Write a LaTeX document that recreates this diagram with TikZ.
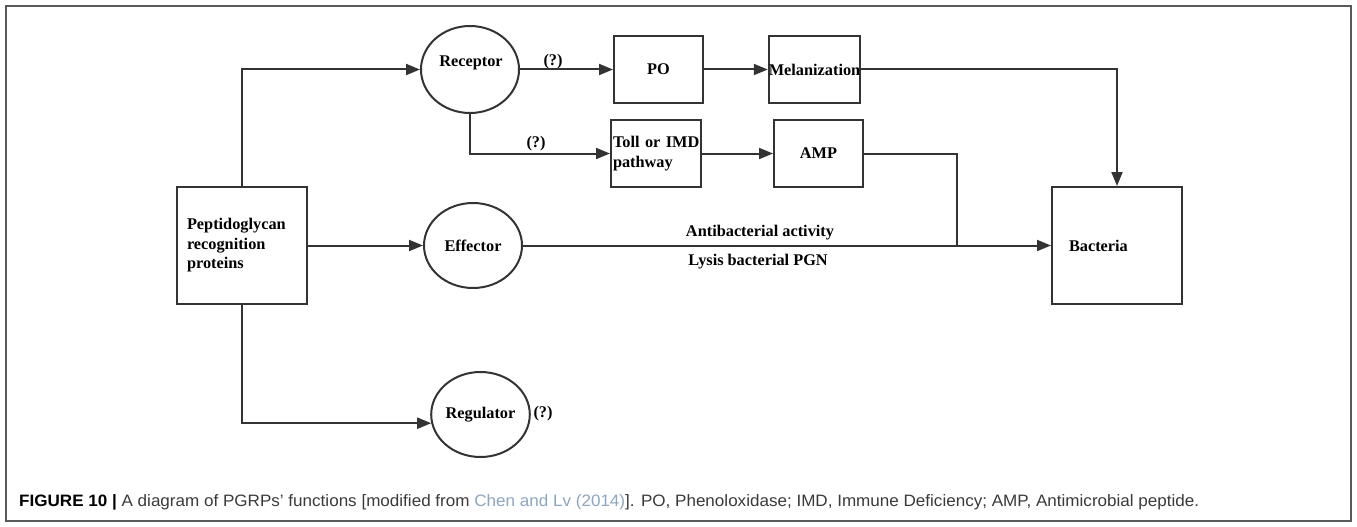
\documentclass[tikz,border=0pt]{standalone}
\usepackage{fontspec}
\usepackage{graphicx}
\setmainfont{Liberation Serif}
\newfontfamily\capfont{Liberation Sans}
\usetikzlibrary{arrows.meta,shapes.geometric}
\definecolor{ln}{HTML}{333333}
\definecolor{capgray}{HTML}{3A3A3A}
\definecolor{linkc}{HTML}{8DA6C0}
\newcommand{\dfont}{\fontsize{16.3}{19.5}\selectfont\bfseries}
\begin{document}
\begin{tikzpicture}[x=1pt,y=-1pt,
  box/.style={draw=ln, line width=2pt, rectangle, inner sep=0pt, font=\dfont, text=black},
  ell/.style={draw=ln, line width=2pt, ellipse, inner sep=0pt, font=\dfont, text=black},
  lbl/.style={font=\dfont, inner sep=0pt, text=black},
  conn/.style={draw=ln, line width=2pt},
  arr/.style={conn, -{Triangle[length=14pt,width=11pt]}}]
\useasboundingbox (0,0) rectangle (1357,527);
\draw[draw=black!65, line width=1.2pt] (6,6) rectangle (1351,521);

% nodes
\node[box, minimum width=130pt, minimum height=117pt, text width=110pt, inner xsep=10pt, align=left] (pgrp) at (242,245.5) {Peptidoglycan\\recognition\\proteins};
\node[ell, minimum width=98pt, minimum height=87pt] (rec) at (470,69.5) {};
\node[lbl] (rect) at (471,63) {Receptor};
\node[ell, minimum width=98pt, minimum height=85pt] (eff) at (473,245.5) {Effector};
\node[ell, minimum width=95pt, minimum height=85pt] (reg) at (480.5,414.5) {Regulator};
\node[box, minimum width=89pt, minimum height=67pt] (po) at (658.5,69.5) {PO};
\node[box, minimum width=89pt, minimum height=67pt] (mel) at (814.5,69.5) {Melanization};
\node[box, minimum width=90pt, minimum height=67pt, text width=86pt, inner xsep=2pt, align=left] (toll) at (656,153.5) {\mbox{Toll or IMD}\\pathway};
\node[box, minimum width=89pt, minimum height=67pt] (amp) at (818.5,153.5) {AMP};
\node[box, minimum width=130pt, minimum height=117pt, text width=96pt, inner xsep=17pt, align=left] (bact) at (1117,245.5) {Bacteria};

% labels
\node[lbl] (q1) at (553,62) {(?)};
\node[lbl] (q2) at (536,144) {(?)};
\node[lbl] (q3) at (543,414) {(?)};
\node[lbl] (anti) at (760,233) {Antibacterial activity};
\node[lbl] (lysis) at (758,262) {Lysis bacterial PGN};

% connectors
\coordinate (j) at (957,246);
\draw[arr] (pgrp.north) |- (rec.west);
\draw[arr] (rec.east) -- (po.west);
\draw[arr] (po.east) -- (mel.west);
\draw[arr] (mel.east) -| (bact.north);
\draw[arr] (rec.south) |- (toll.west);
\draw[arr] (toll.east) -- (amp.west);
\draw[conn] (amp.east) -| (j);
\draw[arr] (pgrp.east) -- (eff.west);
\draw[arr] (eff.east) -- (bact.west);
\draw[arr] (pgrp.south) |- (reg.190);

% caption
\node[anchor=base west, inner sep=0pt, text=capgray] (cap) at (19,506)
  {\resizebox{1180pt}{\height}{\capfont\fontsize{16.5}{19}\selectfont\textcolor{black}{\bfseries FIGURE 10 |} A diagram of PGRPs’ functions [modified from \textcolor{linkc}{Chen and Lv (2014)}]. PO, Phenoloxidase; IMD, Immune Deficiency; AMP, Antimicrobial peptide.}};
\end{tikzpicture}
\end{document}
